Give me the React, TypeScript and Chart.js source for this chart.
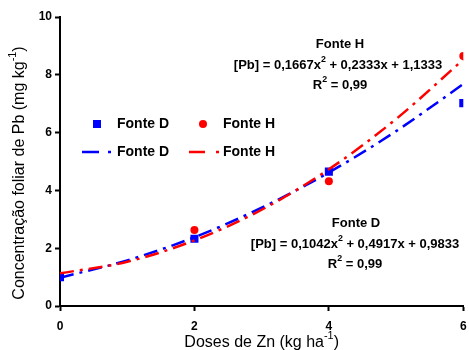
import React, { useEffect, useRef } from "react";
import { Chart, registerables } from "chart.js";

Chart.register(...registerables);

// Observed data (Doses de Zn, kg/ha)
const doses = [0, 2, 4, 6];
const fonteD = [1.0, 2.33, 4.65, 7.02];
const fonteH = [1.02, 2.63, 4.32, 8.65];

// Trend curves
const trendX = [0, 1, 2, 3, 4, 5, 6];
const trendD = [0.98, 1.58, 2.38, 3.4, 4.62, 6.05, 7.68];
const trendH = [1.13, 1.53, 2.27, 3.33, 4.73, 6.47, 8.53];

const xMin = 0, xMax = 6, xStep = 2;
const yMin = 0, yMax = 10, yStep = 2;

const BLUE = "#0000FF";
const RED = "#FF0000";
const FONT = "'Liberation Sans', Arial, sans-serif";
const DASH = [14, 6, 3, 6];

type Seg = { t: string; sup?: boolean };

function richWidth(ctx: CanvasRenderingContext2D, segs: Seg[], fs: number, bold: boolean) {
  let w = 0;
  for (const s of segs) {
    const size = s.sup ? fs * 0.68 : fs;
    ctx.font = `${bold ? "bold " : ""}${size}px ${FONT}`;
    w += ctx.measureText(s.t).width;
  }
  return w;
}

function drawRich(
  ctx: CanvasRenderingContext2D,
  segs: Seg[],
  cx: number,
  cy: number,
  fs: number,
  bold: boolean,
  align: "center" | "left" = "center",
  rotate = 0
) {
  ctx.save();
  ctx.translate(cx, cy);
  if (rotate) ctx.rotate(rotate);
  const w = richWidth(ctx, segs, fs, bold);
  let x = align === "center" ? -w / 2 : 0;
  ctx.textBaseline = "middle";
  ctx.textAlign = "left";
  ctx.fillStyle = "#000";
  for (const s of segs) {
    const size = s.sup ? fs * 0.68 : fs;
    ctx.font = `${bold ? "bold " : ""}${size}px ${FONT}`;
    ctx.fillText(s.t, x, s.sup ? -fs * 0.42 : 0);
    x += ctx.measureText(s.t).width;
  }
  ctx.restore();
}

const overlayPlugin = {
  id: "overlay",
  afterDraw(chart: any) {
    const ctx: CanvasRenderingContext2D = chart.ctx;
    const ca = chart.chartArea;

    // Axis titles
    drawRich(
      ctx,
      [{ t: "Doses de Zn (kg ha" }, { t: "-1", sup: true }, { t: ")" }],
      (ca.left + ca.right) / 2,
      343,
      16,
      false
    );
    drawRich(
      ctx,
      [{ t: "Concentração foliar de Pb (mg kg" }, { t: "-1", sup: true }, { t: ")" }],
      20,
      173,
      16,
      false,
      "center",
      -Math.PI / 2
    );

    // Equations
    drawRich(ctx, [{ t: "Fonte H" }], 340, 44, 13, true);
    drawRich(
      ctx,
      [{ t: "[Pb] = 0,1667x" }, { t: "2", sup: true }, { t: " + 0,2333x + 1,1333" }],
      338,
      65,
      13,
      true
    );
    drawRich(ctx, [{ t: "R" }, { t: "2", sup: true }, { t: " = 0,99" }], 340, 85, 13, true);

    drawRich(ctx, [{ t: "Fonte D" }], 356, 223, 13, true);
    drawRich(
      ctx,
      [{ t: "[Pb] = 0,1042x" }, { t: "2", sup: true }, { t: " + 0,4917x + 0,9833" }],
      355,
      244,
      13,
      true
    );
    drawRich(ctx, [{ t: "R" }, { t: "2", sup: true }, { t: " = 0,99" }], 355, 264, 13, true);

    // Legend
    ctx.save();
    ctx.fillStyle = BLUE;
    ctx.fillRect(93, 120, 8, 8);
    ctx.fillStyle = RED;
    ctx.beginPath();
    ctx.arc(203, 124, 4, 0, Math.PI * 2);
    ctx.fill();
    ctx.lineWidth = 2.5;
    ctx.setLineDash([]);
    ctx.strokeStyle = BLUE;
    ctx.beginPath();
    ctx.moveTo(82, 152);
    ctx.lineTo(99, 152);
    ctx.moveTo(108, 152);
    ctx.lineTo(111, 152);
    ctx.stroke();
    ctx.strokeStyle = RED;
    ctx.beginPath();
    ctx.moveTo(189, 152);
    ctx.lineTo(205, 152);
    ctx.moveTo(216, 152);
    ctx.lineTo(219, 152);
    ctx.stroke();
    ctx.restore();
    drawRich(ctx, [{ t: "Fonte D" }], 117, 124, 14, true, "left");
    drawRich(ctx, [{ t: "Fonte H" }], 223, 124, 14, true, "left");
    drawRich(ctx, [{ t: "Fonte D" }], 117, 152, 14, true, "left");
    drawRich(ctx, [{ t: "Fonte H" }], 223, 152, 14, true, "left");
  },
};

export default function App() {
  const ref = useRef<HTMLCanvasElement>(null);

  useEffect(() => {
    if (!ref.current) return;
    const tickFont = { family: FONT, size: 12, weight: "bold" as const };
    const chart = new Chart(ref.current, {
      type: "scatter",
      data: {
        datasets: [
          {
            label: "Fonte H (tendência)",
            data: trendX.map((x, i) => ({ x, y: trendH[i] })),
            showLine: true,
            borderColor: RED,
            borderWidth: 2.5,
            borderDash: DASH,
            pointRadius: 0,
            cubicInterpolationMode: "monotone",
            fill: false,
          },
          {
            label: "Fonte D (tendência)",
            data: trendX.map((x, i) => ({ x, y: trendD[i] })),
            showLine: true,
            borderColor: BLUE,
            borderWidth: 2.5,
            borderDash: DASH,
            pointRadius: 0,
            cubicInterpolationMode: "monotone",
            fill: false,
          },
          {
            label: "Fonte D",
            data: doses.map((x, i) => ({ x, y: fonteD[i] })),
            showLine: false,
            pointStyle: "rect",
            pointRadius: 5.7,
            backgroundColor: BLUE,
            borderColor: BLUE,
            borderWidth: 0,
          },
          {
            label: "Fonte H",
            data: doses.map((x, i) => ({ x, y: fonteH[i] })),
            showLine: false,
            pointStyle: "circle",
            pointRadius: 4,
            backgroundColor: RED,
            borderColor: RED,
            borderWidth: 0,
          },
        ],
      },
      options: {
        animation: false,
        responsive: false,
        maintainAspectRatio: false,
        layout: { padding: { left: 0, right: 3, top: 17, bottom: 0 } },
        plugins: {
          legend: { display: false },
          tooltip: { enabled: false },
          title: { display: false },
        },
        scales: {
          x: {
            type: "linear",
            min: xMin,
            max: xMax,
            ticks: { stepSize: xStep, font: tickFont, color: "#000", padding: 8 },
            grid: {
              drawOnChartArea: false,
              drawTicks: true,
              tickLength: 5,
              tickWidth: 2,
              tickColor: "#000",
              color: "#000",
            },
            border: { display: true, color: "#000", width: 2 },
            afterFit(scale: any) {
              scale.height = 44;
              scale.paddingLeft = 0;
              scale.paddingRight = 0;
              scale.paddingTop = 0;
              scale.paddingBottom = 0;
            },
          },
          y: {
            type: "linear",
            min: yMin,
            max: yMax,
            ticks: { stepSize: yStep, font: tickFont, color: "#000", padding: 3 },
            grid: {
              drawOnChartArea: false,
              drawTicks: true,
              tickLength: 5,
              tickWidth: 2,
              tickColor: "#000",
              color: "#000",
            },
            border: { display: true, color: "#000", width: 2 },
            afterFit(scale: any) {
              scale.width = 60;
              scale.paddingLeft = 0;
              scale.paddingRight = 0;
              scale.paddingTop = 0;
              scale.paddingBottom = 0;
            },
          },
        },
      },
      plugins: [overlayPlugin],
    } as any);
    return () => chart.destroy();
  }, []);

  return (
    <div style={{ position: "fixed", left: 0, top: 0, width: 469, height: 350, background: "#fff" }}>
      <canvas ref={ref} width={469} height={350} style={{ width: 469, height: 350, display: "block" }} />
    </div>
  );
}
